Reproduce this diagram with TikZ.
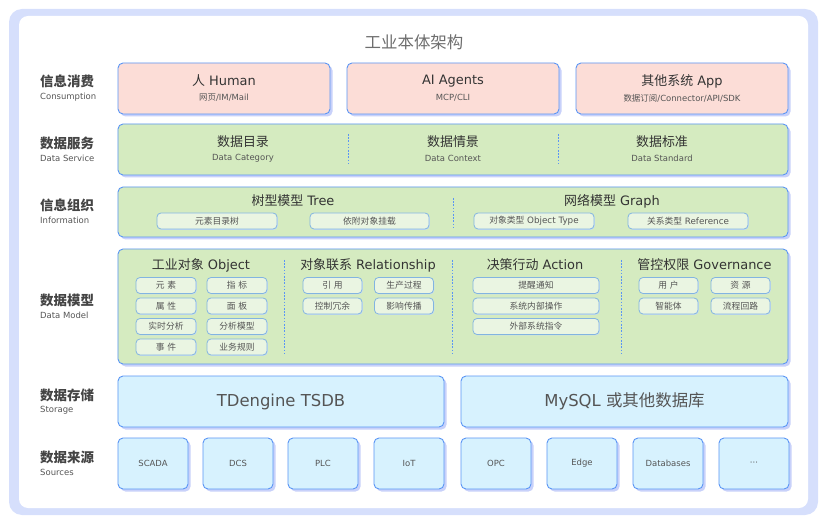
\documentclass[tikz,border=0pt]{standalone}
\usepackage{fontspec}
\setmainfont{DejaVu Sans}
\newfontfamily\cjkf{Noto Sans CJK SC}
\newfontfamily\latf{DejaVu Sans}
\newXeTeXintercharclass\cjkcls
\count255="2E80
\loop \XeTeXcharclass\count255=\cjkcls \ifnum\count255<"9FFF \advance\count255 by 1 \repeat
\count255="FF00
\loop \XeTeXcharclass\count255=\cjkcls \ifnum\count255<"FFEF \advance\count255 by 1 \repeat
\XeTeXinterchartoks 0 \cjkcls = {\cjkf}
\XeTeXinterchartoks 4095 \cjkcls = {\cjkf}
\XeTeXinterchartoks \cjkcls 0 = {\latf}
\XeTeXinterchartoks \cjkcls 4095 = {\latf}
\AtBeginDocument{\XeTeXinterchartokenstate=1}
\usetikzlibrary{shadows}
\definecolor{framec}{RGB}{214,223,252}
\definecolor{bord}{RGB}{90,149,245}
\definecolor{shad}{RGB}{200,209,250}
\definecolor{pinkf}{RGB}{252,221,215}
\definecolor{greenf}{RGB}{213,235,192}
\definecolor{cyanf}{RGB}{215,242,254}
\definecolor{pillf}{RGB}{234,245,226}
\definecolor{pillb}{RGB}{130,180,225}
\definecolor{txtc}{RGB}{51,51,51}
\definecolor{subc}{RGB}{85,85,85}
\definecolor{lblc}{RGB}{68,68,68}
\definecolor{ttlc}{RGB}{110,110,110}
\newcommand\fsbig{\fontsize{16.5}{19}\selectfont}
\newcommand\fsttl{\fontsize{13}{15}\selectfont}
\newcommand\fslbl{\fontsize{13.5}{15}\selectfont}
\newcommand\fssub{\fontsize{8.5}{10}\selectfont}
\newcommand\fspill{\fontsize{8.8}{10}\selectfont}
\tikzset{
  card/.style={draw=bord, line width=0.9bp, rounded corners=5bp, inner sep=0pt, outer sep=0pt,
    drop shadow={shadow xshift=2.5bp, shadow yshift=-2.5bp, fill=shad, opacity=1}},
  pinkcard/.style={card, fill=pinkf, minimum height=51bp},
  greencard/.style={card, fill=greenf},
  cyancard/.style={card, fill=cyanf, minimum height=51bp},
  pill/.style={draw=pillb, line width=0.8bp, rounded corners=4bp, fill=pillf, inner sep=0pt,
    minimum height=16bp, font=\fspill, text=subc,
    drop shadow={shadow xshift=0.8bp, shadow yshift=-0.8bp, fill=pillb!45, opacity=1}},
  ttl/.style={font=\fsttl, text=txtc, inner sep=0pt},
  sub/.style={font=\fssub, text=subc, inner sep=0pt},
  lblmain/.style={font=\fslbl\bfseries, text=lblc, anchor=west, inner sep=0pt},
  lblsub/.style={font=\fssub, text=subc, anchor=west, inner sep=0pt},
  divider/.style={draw=bord, line width=0.8bp, dash pattern=on 1.6bp off 1.6bp},
  srcbox/.style={cyancard, minimum width=70bp, font=\fssub, text=subc},
}
\begin{document}
\begin{tikzpicture}[x=1bp,y=-1bp]
\useasboundingbox (0,0) rectangle (828,524);
% frame
\fill[framec, rounded corners=13bp] (9,9) rectangle (818,515);
\fill[white, rounded corners=9bp] (19,16) rectangle (808,508);
\node[font=\fontsize{16.5}{18}\selectfont, text=ttlc, inner sep=0pt] (title) at (414,42) {工业本体架构};

% left labels
\node[lblmain] (l1) at (40,81) {信息消费};
\node[lblsub] (l1s) at (40,97) {Consumption};
\node[lblmain] (l2) at (40,143) {数据服务};
\node[lblsub] (l2s) at (40,158) {Data Service};
\node[lblmain] (l3) at (40,205) {信息组织};
\node[lblsub] (l3s) at (40,220) {Information};
\node[lblmain] (l4) at (40,300) {数据模型};
\node[lblsub] (l4s) at (40,315) {Data Model};
\node[lblmain] (l5) at (40,395) {数据存储};
\node[lblsub] (l5s) at (40,410) {Storage};
\node[lblmain] (l6) at (40,457) {数据来源};
\node[lblsub] (l6s) at (40,472) {Sources};

% row 1 consumption
\node[pinkcard, minimum width=212bp] (c1) at (224,88.5) {};
\node[pinkcard, minimum width=212bp] (c2) at (453,88.5) {};
\node[pinkcard, minimum width=212bp] (c3) at (682,88.5) {};
\node[ttl] (c1t) at (224,81) {人 Human};
\node[sub] (c1s) at (224,98) {网页/IM/Mail};
\node[ttl] (c2t) at (453,81) {AI Agents};
\node[sub] (c2s) at (453,98) {MCP/CLI};
\node[ttl] (c3t) at (682,81) {其他系统 App};
\node[sub] (c3s) at (682,98) {数据订阅/Connector/API/SDK};

% row 2 data service
\node[greencard, minimum width=670bp, minimum height=51bp] (ds) at (453,149.5) {};
\draw[divider] (348,134) -- (348,165);
\draw[divider] (558,134) -- (558,165);
\node[ttl] (d1t) at (243,142) {数据目录};
\node[sub] (d1s) at (243,158) {Data Category};
\node[ttl] (d2t) at (453,142) {数据情景};
\node[sub] (d2s) at (453,158) {Data Context};
\node[ttl] (d3t) at (662,142) {数据标准};
\node[sub] (d3s) at (662,158) {Data Standard};

% row 3 information
\node[greencard, minimum width=670bp, minimum height=50bp] (inf) at (453,212) {};
\draw[divider] (453,198) -- (453,229);
\node[ttl] (treet) at (293,201) {树型模型 Tree};
\node[pill, minimum width=120bp] (p31) at (217,221) {元素目录树};
\node[pill, minimum width=119bp] (p32) at (369.5,221) {依附对象挂载};
\node[ttl] (grapht) at (612,201) {网络模型 Graph};
\node[pill, minimum width=120bp] (p33) at (534,221) {对象类型 Object Type};
\node[pill, minimum width=120bp] (p34) at (688,221) {关系类型 Reference};

% row 4 data model
\node[greencard, minimum width=670bp, minimum height=115bp] (dm) at (453,306.5) {};
\draw[divider] (284,260) -- (284,354);
\draw[divider] (452,260) -- (452,354);
\draw[divider] (621,260) -- (621,354);
\node[ttl] (objt) at (201,265) {工业对象 Object};
\node[pill, minimum width=60bp] (o11) at (166,285.5) {元\ 素};
\node[pill, minimum width=60bp] (o12) at (237,285.5) {指\ 标};
\node[pill, minimum width=60bp] (o21) at (166,306) {属\ 性};
\node[pill, minimum width=60bp] (o22) at (237,306) {面\ 板};
\node[pill, minimum width=60bp] (o31) at (166,326.5) {实时分析};
\node[pill, minimum width=60bp] (o32) at (237,326.5) {分析模型};
\node[pill, minimum width=60bp] (o41) at (166,347) {事\ 件};
\node[pill, minimum width=60bp] (o42) at (237,347) {业务规则};
\node[ttl] (relt) at (368,265) {对象联系 Relationship};
\node[pill, minimum width=59bp] (r11) at (332.5,285.5) {引\ 用};
\node[pill, minimum width=59bp] (r12) at (404,285.5) {生产过程};
\node[pill, minimum width=59bp] (r21) at (332.5,306) {控制冗余};
\node[pill, minimum width=59bp] (r22) at (404,306) {影响传播};
\node[ttl] (actt) at (535,265) {决策行动 Action};
\node[pill, minimum width=126bp] (a1) at (536,285.5) {提醒通知};
\node[pill, minimum width=126bp] (a2) at (536,306) {系统内部操作};
\node[pill, minimum width=126bp] (a3) at (536,326.5) {外部系统指令};
\node[ttl] (govt) at (704.5,265) {管控权限 Governance};
\node[pill, minimum width=59bp] (g11) at (668.5,285.5) {用\ 户};
\node[pill, minimum width=59bp] (g12) at (740.5,285.5) {资\ 源};
\node[pill, minimum width=59bp] (g21) at (668.5,306) {智能体};
\node[pill, minimum width=59bp] (g22) at (740.5,306) {流程回路};

% row 5 storage
\node[cyancard, minimum width=326bp, font=\fsbig, text=subc] (st1) at (281,401.5) {TDengine TSDB};
\node[cyancard, minimum width=327bp, font=\fsbig, text=subc] (st2) at (624.5,401.5) {MySQL 或其他数据库};

% row 6 sources
\node[srcbox] (s1) at (153,463.5) {SCADA};
\node[srcbox] (s2) at (238,463.5) {DCS};
\node[srcbox] (s3) at (323,463.5) {PLC};
\node[srcbox] (s4) at (409,463.5) {IoT};
\node[srcbox] (s5) at (496,463.5) {OPC};
\node[srcbox] (s6) at (582,463.5) {Edge};
\node[srcbox] (s7) at (668,463.5) {Databases};
\node[srcbox] (s8) at (754,463.5) {···};
\end{tikzpicture}
\end{document}
